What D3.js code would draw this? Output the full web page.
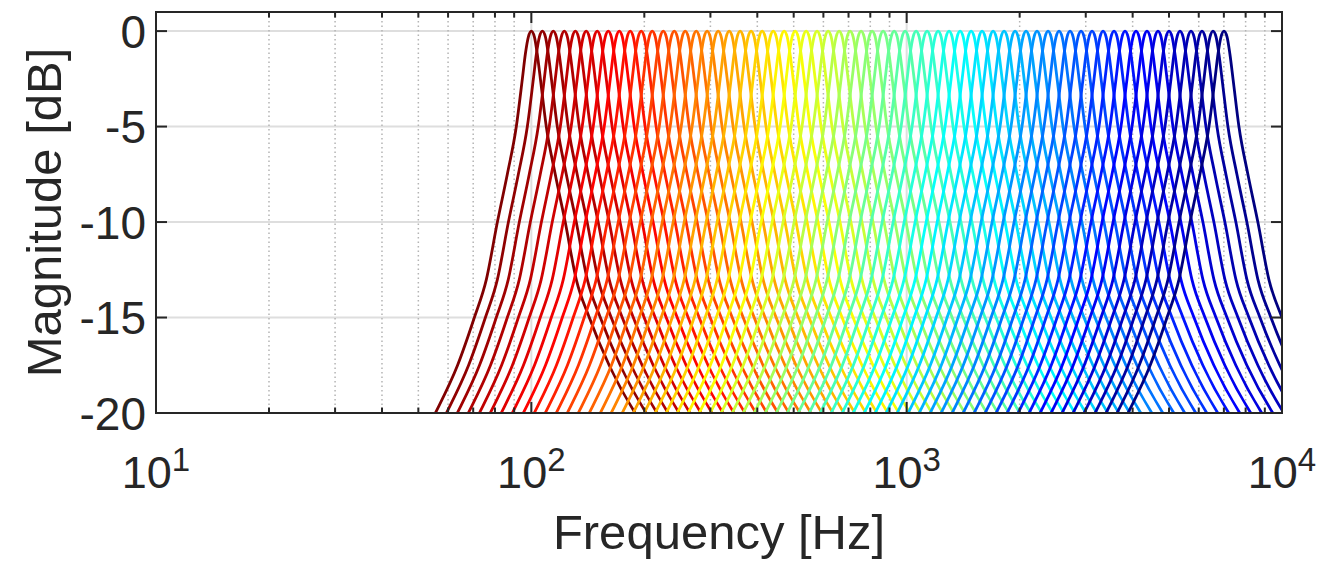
<!DOCTYPE html>
<html>
<head>
<meta charset="utf-8">
<script src="https://cdn.jsdelivr.net/npm/d3@7"></script>
<style>
  html, body { margin: 0; padding: 0; background: #fff; }
  svg { display: block; }
  text { font-family: "Liberation Sans", Arial, Helvetica, sans-serif; fill: #262626; }
</style>
</head>
<body>
<svg id="chart" width="1322" height="562"></svg>
<script>
// ---- data ----
// centre frequencies of the filters (Hz), low to high
const centerFreqs = [
  100, 107, 114.4, 122.4, 131, 140, 149.8, 160.3, 171.5, 183.4,
  196.2, 209.9, 224.6, 240.3, 257, 275, 294, 314.6, 336.6, 360,
  385, 412, 441, 471.5, 504.5, 539.7, 577, 617.6, 660.7, 706.8,
  756, 809, 865.5, 926, 990.5, 1059.6, 1133.5, 1212.6, 1297, 1388,
  1485, 1588, 1699, 1817.6, 1944.5, 2080, 2225, 2380.6, 2546.7, 2724.4,
  2914.5, 3117.9, 3335.4, 3568, 3817, 4083.5, 4368.4, 4673, 5000, 5348.6,
  5722, 6121, 6548, 7005
];
// common response shape: frequency relative to centre (f/fc) and magnitude (dB)
const shapeRatio = [0.46, 0.50, 0.555, 0.636, 0.705, 0.759, 0.812, 0.863, 0.912, 0.9464, 0.964, 0.982, 1,
                    1.019, 1.037, 1.057, 1.096, 1.158, 1.231, 1.317, 1.427, 1.612, 1.89, 2.1, 2.35];
const shapeDb    = [-23, -21.7, -20, -17.5, -15, -13, -10, -7.5, -5, -2.5, -1.2, -0.3, 0,
                    -0.3, -1.2, -2.5, -5, -7.5, -10, -13, -15, -17.5, -20, -21.3, -22.7];
const xTickExponents = [1, 2, 3, 4];
const yTicks = [0, -5, -10, -15, -20];
const xLabel = "Frequency [Hz]";
const yLabel = "Magnitude [dB]";

// ---- layout ----
const L = 156, R = 1282, T = 12, B = 413;
const svg = d3.select("#chart");
const x = d3.scaleLog().domain([10, 10000]).range([L, R]);
const y = d3.scaleLinear().domain([-20, 1]).range([B, T]);

function jet(t) {
  const c = v => Math.max(0, Math.min(1, v));
  const r = c(1.5 - Math.abs(4 * t - 3));
  const g = c(1.5 - Math.abs(4 * t - 2));
  const b = c(1.5 - Math.abs(4 * t - 1));
  return d3.rgb(r * 255, g * 255, b * 255).toString();
}

// grid
const grid = svg.append("g");
yTicks.forEach(v => {
  grid.append("line").attr("x1", L).attr("x2", R).attr("y1", y(v)).attr("y2", y(v))
    .attr("stroke", "#dedede").attr("stroke-width", 2);
});
const minorVals = [];
for (let e = 1; e <= 3; e++) for (let m = 2; m <= 9; m++) minorVals.push(m * Math.pow(10, e));
minorVals.forEach(v => {
  grid.append("line").attr("x1", x(v)).attr("x2", x(v)).attr("y1", T).attr("y2", B)
    .attr("stroke", "#b4b4b4").attr("stroke-width", 1.5).attr("stroke-dasharray", "1.5,3");
});
[100, 1000].forEach(v => {
  grid.append("line").attr("x1", x(v)).attr("x2", x(v)).attr("y1", T).attr("y2", B)
    .attr("stroke", "#dedede").attr("stroke-width", 2);
});

// curves
svg.append("clipPath").attr("id", "clip").append("rect")
  .attr("x", L).attr("y", T).attr("width", R - L).attr("height", B - T);
const line = d3.line().x(d => x(d[0])).y(d => y(d[1])).curve(d3.curveMonotoneX);
const n = centerFreqs.length;
const curves = svg.append("g").attr("clip-path", "url(#clip)");
centerFreqs.forEach((fc, k) => {
  const pts = shapeRatio.map((r, i) => [fc * r, shapeDb[i]]);
  curves.append("path").attr("d", line(pts)).attr("fill", "none")
    .attr("stroke", jet(1 - k / (n - 1))).attr("stroke-width", 2.8)
    .attr("stroke-linejoin", "round");
});

// axes box and ticks
const ax = svg.append("g").attr("stroke", "#262626").attr("stroke-width", 2);
ax.append("rect").attr("x", L).attr("y", T).attr("width", R - L).attr("height", B - T).attr("fill", "none");
xTickExponents.forEach(e => {
  const px = x(Math.pow(10, e));
  ax.append("line").attr("x1", px).attr("x2", px).attr("y1", B).attr("y2", B - 11);
  ax.append("line").attr("x1", px).attr("x2", px).attr("y1", T).attr("y2", T + 11);
});
minorVals.forEach(v => {
  const px = x(v);
  ax.append("line").attr("x1", px).attr("x2", px).attr("y1", B).attr("y2", B - 5.5);
  ax.append("line").attr("x1", px).attr("x2", px).attr("y1", T).attr("y2", T + 5.5);
});
yTicks.forEach(v => {
  ax.append("line").attr("x1", L).attr("x2", L + 11).attr("y1", y(v)).attr("y2", y(v));
  ax.append("line").attr("x1", R).attr("x2", R - 11).attr("y1", y(v)).attr("y2", y(v));
});

// tick labels
yTicks.forEach(v => {
  svg.append("text").attr("x", 146).attr("y", y(v)).attr("dy", "0.36em")
    .attr("text-anchor", "end").attr("font-size", 46).text(v);
});
xTickExponents.forEach(e => {
  const t = svg.append("text").attr("x", x(Math.pow(10, e))).attr("y", 488)
    .attr("text-anchor", "middle").attr("font-size", 45);
  t.append("tspan").text("10");
  t.append("tspan").attr("dy", -17).attr("font-size", 33).text(e);
});

// axis labels
svg.append("text").attr("x", (L + R) / 2).attr("y", 549).attr("text-anchor", "middle")
  .attr("font-size", 49).text(xLabel);
svg.append("text").attr("transform", `translate(61,${(T + B) / 2}) rotate(-90)`)
  .attr("text-anchor", "middle").attr("font-size", 49).text(yLabel);
</script>
</body>
</html>
